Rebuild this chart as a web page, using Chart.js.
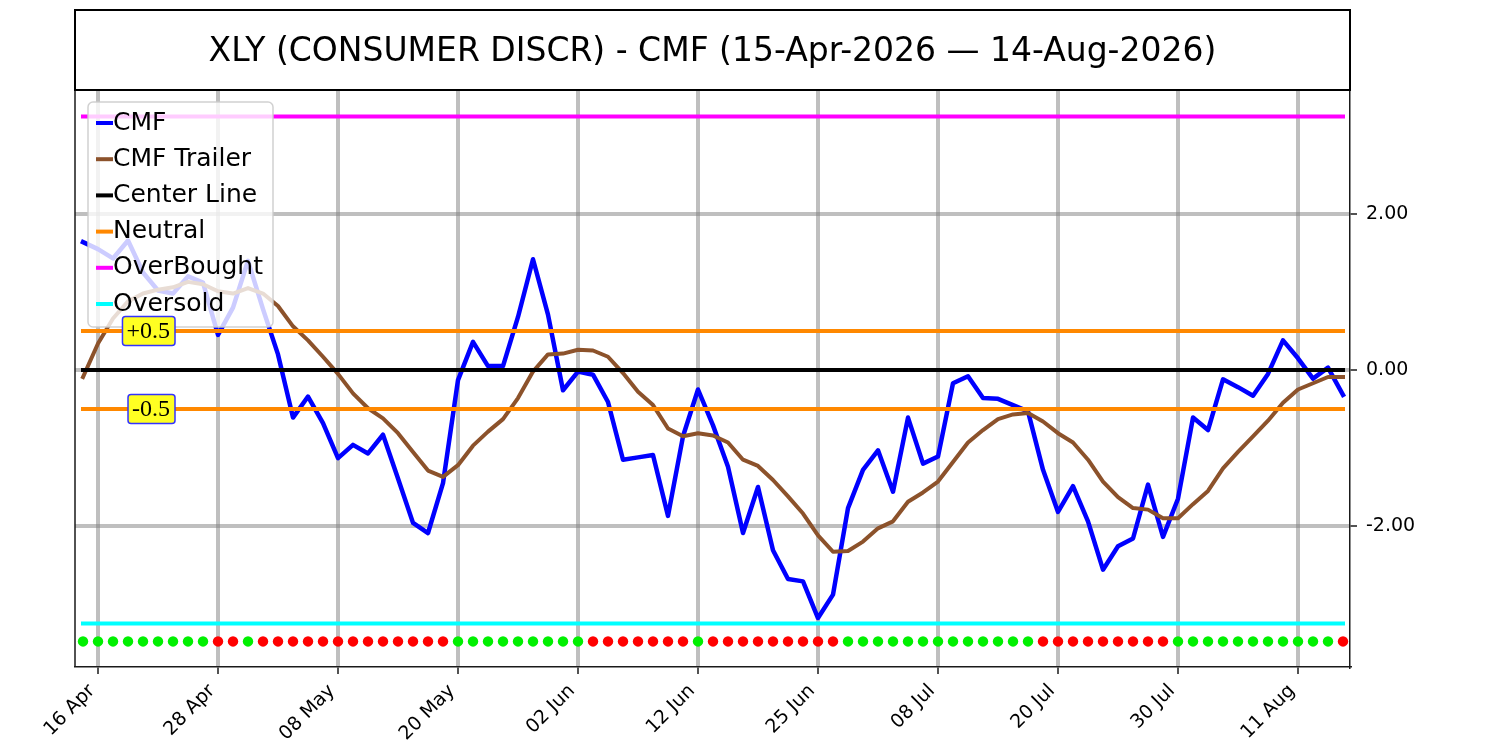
<!DOCTYPE html>
<html>
<head>
<meta charset="utf-8">
<script src="https://cdn.jsdelivr.net/npm/chart.js@4.4.1/dist/chart.umd.min.js"></script>
<style>
  html, body { margin: 0; padding: 0; background: #ffffff; }
  #wrap { width: 1500px; height: 750px; }
</style>
</head>
<body>
<div id="wrap"><canvas id="c" width="1500" height="750"></canvas></div>
<script>
// ---------------- DATA ----------------
const titleText = 'XLY (CONSUMER DISCR) - CMF (15-Apr-2026 \u2014 14-Aug-2026)';

const dates = [
  '15 Apr','16 Apr','17 Apr','20 Apr','21 Apr','22 Apr','23 Apr','24 Apr','27 Apr','28 Apr','29 Apr','30 Apr',
  '01 May','04 May','05 May','06 May','07 May','08 May','11 May','12 May','13 May','14 May','15 May','18 May',
  '19 May','20 May','21 May','22 May','26 May','27 May','28 May','29 May',
  '01 Jun','02 Jun','03 Jun','04 Jun','05 Jun','08 Jun','09 Jun','10 Jun','11 Jun','12 Jun','15 Jun','16 Jun',
  '17 Jun','18 Jun','22 Jun','23 Jun','24 Jun','25 Jun','26 Jun','29 Jun','30 Jun',
  '01 Jul','02 Jul','06 Jul','07 Jul','08 Jul','09 Jul','10 Jul','13 Jul','14 Jul','15 Jul','16 Jul','17 Jul',
  '20 Jul','21 Jul','22 Jul','23 Jul','24 Jul','27 Jul','28 Jul','29 Jul','30 Jul','31 Jul',
  '03 Aug','04 Aug','05 Aug','06 Aug','07 Aug','10 Aug','11 Aug','12 Aug','13 Aug','14 Aug'
];

const xTickIdx = [1, 9, 17, 25, 33, 41, 49, 57, 65, 73, 81];

const cmf = [
  1.64, 1.55, 1.43, 1.66, 1.25, 1.02, 0.98, 1.20, 1.12, 0.45,
  0.80, 1.40, 0.78, 0.20, -0.61, -0.34, -0.68, -1.13, -0.96, -1.07,
  -0.83, -1.39, -1.96, -2.09, -1.45, -0.13, 0.36, 0.05, 0.05, 0.68,
  1.42, 0.71, -0.26, -0.02, -0.06, -0.41, -1.15, -1.12, -1.09, -1.87,
  -0.85, -0.25, -0.71, -1.24, -2.09, -1.50, -2.31, -2.68, -2.71, -3.18,
  -2.88, -1.77, -1.28, -1.03, -1.56, -0.61, -1.20, -1.11, -0.17, -0.08,
  -0.36, -0.37, -0.45, -0.53, -1.28, -1.82, -1.49, -1.94, -2.56, -2.26,
  -2.16, -1.47, -2.14, -1.65, -0.61, -0.77, -0.12, -0.22, -0.33, -0.05,
  0.38, 0.15, -0.11, 0.03, -0.32
];

const cmfTrailer = [
  -0.09, 0.34, 0.66, 0.88, 0.98, 1.03, 1.06, 1.13, 1.10, 1.01,
  0.98, 1.05, 0.98, 0.82, 0.56, 0.38, 0.17, -0.05, -0.30, -0.49,
  -0.62, -0.81, -1.05, -1.29, -1.37, -1.22, -0.97, -0.79, -0.63, -0.36,
  -0.02, 0.20, 0.21, 0.26, 0.25, 0.17, -0.04, -0.28, -0.45, -0.75,
  -0.85, -0.81, -0.84, -0.93, -1.15, -1.23, -1.41, -1.62, -1.84, -2.12,
  -2.33, -2.32, -2.20, -2.03, -1.94, -1.69, -1.57, -1.43, -1.18, -0.93,
  -0.77, -0.63, -0.57, -0.55, -0.66, -0.81, -0.93, -1.15, -1.43, -1.63,
  -1.77, -1.79, -1.90, -1.90, -1.72, -1.55, -1.26, -1.05, -0.85, -0.65,
  -0.42, -0.25, -0.17, -0.09, -0.09
];

// 1 = green dot, 0 = red dot
const signal = [
  1,1,1,1,1,1,1,1,1,0, 0,1,0,0,0,0,0,0,0,0,
  0,0,0,0,0,1,1,1,1,1, 1,1,1,1,0,0,0,0,0,0,
  0,1,0,0,0,0,0,0,0,0, 0,1,1,1,1,1,1,1,1,1,
  1,1,1,1,0,0,0,0,0,0, 0,0,0,1,1,1,1,1,1,1,
  1,1,1,1,0
];

const centerLevel = 0;
const neutralLevels = [0.5, -0.5];
const overBought = 3.25;
const overSold = -3.25;
const dotLevel = -3.48;
const yTicks = [-2, 0, 2];
const neutralLabels = ['+0.5', '-0.5'];

// ---------------- BUILD ----------------
Chart.defaults.font.family = "'DejaVu Sans', sans-serif";
Chart.defaults.color = '#000';

const lastIdx = dates.length - 1;
const series = arr => arr.map((v, i) => ({ x: i, y: v }));
const hline = lvl => [{ x: 0, y: lvl }, { x: lastIdx, y: lvl }];

const COLORS = {
  cmf: '#0000ff',
  trailer: '#8c522b',
  center: '#000000',
  neutral: '#ff8800',
  ob: '#ff00ff',
  os: '#00ffff',
  green: '#00f000',
  red: '#ff0000'
};

function lineDs(label, data, color, width, order) {
  return {
    type: 'line', label, data,
    borderColor: color, backgroundColor: color,
    borderWidth: width, pointRadius: 0, pointHoverRadius: 0,
    tension: 0, fill: false, order,
    borderCapStyle: 'square', borderJoinStyle: 'round'
  };
}

const datasets = [
  lineDs('CMF', series(cmf), COLORS.cmf, 4.5, 6),
  lineDs('CMF Trailer', series(cmfTrailer), COLORS.trailer, 4, 5),
  lineDs('Center Line', hline(centerLevel), COLORS.center, 4, 4),
  lineDs('Neutral', hline(neutralLevels[0]), COLORS.neutral, 4, 3),
  lineDs('Neutral2', hline(neutralLevels[1]), COLORS.neutral, 4, 3),
  lineDs('OverBought', hline(overBought), COLORS.ob, 4, 2),
  lineDs('Oversold', hline(overSold), COLORS.os, 4, 2),
  {
    type: 'scatter', label: 'Signal',
    data: signal.map((s, i) => ({ x: i, y: dotLevel })),
    pointRadius: 5.2, pointHoverRadius: 5.2, pointBorderWidth: 0,
    pointBackgroundColor: signal.map(s => s ? COLORS.green : COLORS.red),
    showLine: false, order: 1
  }
];

const legendItems = [
  ['CMF', COLORS.cmf], ['CMF Trailer', COLORS.trailer], ['Center Line', COLORS.center],
  ['Neutral', COLORS.neutral], ['OverBought', COLORS.ob], ['Oversold', COLORS.os]
];

function roundRect(ctx, x, y, w, h, r) {
  ctx.beginPath();
  ctx.moveTo(x + r, y);
  ctx.lineTo(x + w - r, y);
  ctx.arcTo(x + w, y, x + w, y + r, r);
  ctx.lineTo(x + w, y + h - r);
  ctx.arcTo(x + w, y + h, x + w - r, y + h, r);
  ctx.lineTo(x + r, y + h);
  ctx.arcTo(x, y + h, x, y + h - r, r);
  ctx.lineTo(x, y + r);
  ctx.arcTo(x, y, x + r, y, r);
  ctx.closePath();
}

const deco = {
  id: 'deco',
  beforeDraw(chart) {
    const ctx = chart.ctx;
    ctx.save();
    ctx.fillStyle = '#ffffff';
    ctx.fillRect(0, 0, chart.width, chart.height);
    ctx.restore();
  },
  afterDatasetsDraw(chart) {
    const ctx = chart.ctx;
    const ca = chart.chartArea;
    const xs = chart.scales.x, ys = chart.scales.y;
    // legend
    ctx.save();
    const lx = ca.left + 13, ly = ca.top + 12, lw = 185, lh = 225;
    roundRect(ctx, lx, ly, lw, lh, 5);
    ctx.fillStyle = 'rgba(255,255,255,0.8)';
    ctx.fill();
    ctx.strokeStyle = 'rgba(204,204,204,0.9)';
    ctx.lineWidth = 1.5;
    ctx.stroke();
    ctx.font = "25px 'DejaVu Sans'";
    ctx.textBaseline = 'middle';
    ctx.textAlign = 'left';
    legendItems.forEach((it, k) => {
      const cy = ly + 21 + k * 36.2;
      ctx.strokeStyle = it[1];
      ctx.lineWidth = 4;
      ctx.lineCap = 'butt';
      ctx.beginPath();
      ctx.moveTo(lx + 8, cy);
      ctx.lineTo(lx + 25, cy);
      ctx.stroke();
      ctx.fillStyle = '#000';
      ctx.fillText(it[0], lx + 25, cy);
    });
    ctx.restore();

    // neutral labels
    ctx.save();
    ctx.font = "24px 'Liberation Serif', serif";
    ctx.textBaseline = 'middle';
    ctx.textAlign = 'right';
    neutralLabels.forEach((t, k) => {
      const rx = xs.getPixelForValue(5.8);
      const cy = ys.getPixelForValue(neutralLevels[k]);
      const w = ctx.measureText(t).width;
      const bx = rx - w - 4, bw = w + 9, by = cy - 14.5, bh = 29;
      roundRect(ctx, bx, by, bw, bh, 3);
      ctx.fillStyle = '#ffff22';
      ctx.fill();
      ctx.strokeStyle = '#3333ff';
      ctx.lineWidth = 1.5;
      ctx.stroke();
      ctx.fillStyle = '#000';
      ctx.fillText(t, rx, cy + 1);
    });
    ctx.restore();
  },
  afterDraw(chart) {
    const ctx = chart.ctx;
    const ca = chart.chartArea;
    ctx.save();
    // axes frame (left & top)
    ctx.strokeStyle = '#1a1a1a';
    ctx.lineWidth = 1.5;
    ctx.beginPath();
    ctx.moveTo(ca.left, ca.bottom);
    ctx.lineTo(ca.left, ca.top);
    ctx.lineTo(ca.right, ca.top);
    ctx.stroke();
    // title box
    ctx.strokeStyle = '#000';
    ctx.lineWidth = 2;
    ctx.strokeRect(ca.left, 10, ca.right - ca.left, ca.top - 10);
    ctx.fillStyle = '#000';
    ctx.font = "33px 'DejaVu Sans'";
    ctx.textAlign = 'center';
    ctx.textBaseline = 'middle';
    ctx.fillText(titleText, (ca.left + ca.right) / 2, 12 + (ca.top - 10) / 2);
    ctx.restore();
  }
};

const GRID = 'rgba(128,128,128,0.5)';

new Chart(document.getElementById('c'), {
  type: 'line',
  data: { datasets },
  plugins: [deco],
  options: {
    responsive: false,
    animation: false,
    devicePixelRatio: 1,
    events: [],
    layout: { padding: { left: 75, top: 90, right: 0, bottom: 0 } },
    plugins: { legend: { display: false }, title: { display: false }, tooltip: { enabled: false } },
    scales: {
      x: {
        type: 'linear',
        position: 'bottom',
        min: -8 / 15,
        max: lastIdx + 7 / 15,
        afterBuildTicks: s => { s.ticks = xTickIdx.map(v => ({ value: v })); },
        afterFit: s => { s.height = 83; },
        grid: { color: GRID, lineWidth: 4, drawTicks: true, tickLength: 7, tickColor: '#1a1a1a', tickWidth: 1.5 },
        border: { display: true, color: '#1a1a1a', width: 1.5 },
        ticks: {
          autoSkip: false, maxRotation: 45, minRotation: 45, padding: 6, labelOffset: -6,
          font: { size: 19 }, color: '#000',
          callback: v => dates[v]
        }
      },
      y: {
        type: 'linear',
        position: 'right',
        min: -297 / 78,
        max: 280 / 78,
        afterBuildTicks: s => { s.ticks = yTicks.map(v => ({ value: v })); },
        afterFit: s => { s.width = 150; },
        grid: { color: GRID, lineWidth: 4, drawTicks: true, tickLength: 7, tickColor: '#1a1a1a', tickWidth: 1.5 },
        border: { display: true, color: '#1a1a1a', width: 1.5 },
        ticks: {
          padding: 9, font: { size: 19 }, color: '#000',
          callback: v => v.toFixed(2)
        }
      }
    }
  }
});
</script>
</body>
</html>
